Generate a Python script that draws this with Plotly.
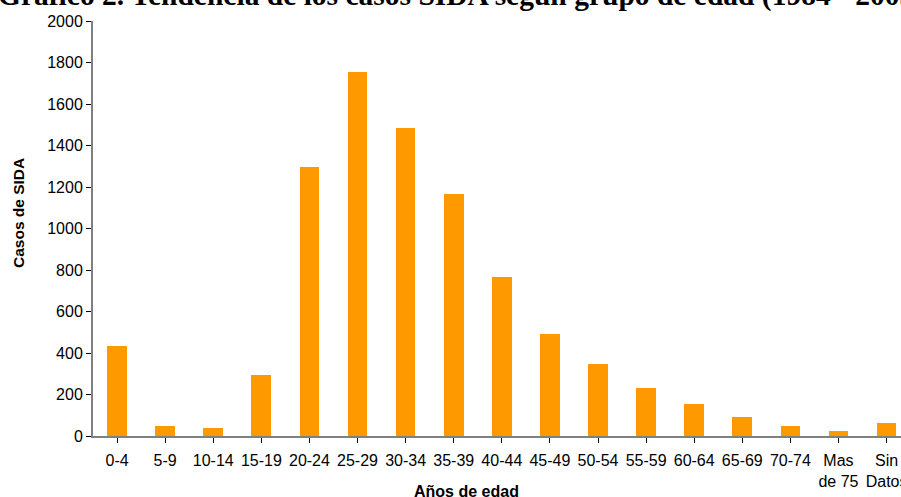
import plotly.graph_objects as go

# Age groups and number of AIDS cases per group
age_groups = ["0-4", "5-9", "10-14", "15-19", "20-24", "25-29", "30-34", "35-39",
              "40-44", "45-49", "50-54", "55-59", "60-64", "65-69", "70-74",
              "Mas<br>de 75", "Sin<br>Datos"]
cases = [432, 47, 37, 292, 1295, 1753, 1483, 1165, 765, 490, 346, 230, 153, 90, 47, 23, 61]

y_ticks = list(range(0, 2001, 200))

title_text = "Gráfico 2. Tendencia de los casos SIDA según grupo de edad (1984 - 2005)"
x_title = "Años de edad"
y_title = "Casos de SIDA"

W, H = 901, 497
L, R, T, B = 93, 0, 21, 61
pw, ph = W - L - R, H - T - B


def px_to_paper_x(px):
    return (px - L) / pw


def px_to_paper_y(py):
    return (H - B - py) / ph


fig = go.Figure(
    go.Bar(
        x=list(range(len(age_groups))),
        y=cases,
        width=0.41,
        marker=dict(color="#FF9900", line=dict(width=0)),
    )
)

fig.update_layout(
    width=W,
    height=H,
    margin=dict(l=L, r=R, t=T, b=B, pad=0, autoexpand=False),
    paper_bgcolor="white",
    plot_bgcolor="white",
    showlegend=False,
    font=dict(family="Liberation Sans, Arial, sans-serif", size=16, color="black"),
    bargap=0,
)

fig.update_xaxes(
    range=[-0.5, 16.3],
    tickmode="array",
    tickvals=list(range(len(age_groups))),
    ticktext=age_groups,
    tickson="boundaries",
    ticks="outside",
    ticklen=5,
    tickwidth=1,
    tickcolor="black",
    ticklabeloverflow="allow",
    ticklabelstandoff=4,
    showline=True,
    linecolor="#808080",
    linewidth=2,
    showgrid=False,
    zeroline=False,
    automargin=False,
    tickfont=dict(size=16),
    fixedrange=True,
)

fig.update_yaxes(
    range=[0, 2000],
    tickmode="array",
    tickvals=y_ticks,
    ticktext=[str(v) for v in y_ticks],
    ticks="outside",
    ticklen=5,
    tickwidth=1,
    tickcolor="black",
    showline=True,
    linecolor="#808080",
    linewidth=2,
    showgrid=False,
    zeroline=False,
    automargin=False,
    tickfont=dict(size=16),
    fixedrange=True,
)

annotations = [
    dict(
        text=f"<b>{title_text}</b>",
        xref="paper", yref="paper",
        x=px_to_paper_x(-4), y=px_to_paper_y(14),
        xanchor="left", yanchor="bottom",
        showarrow=False,
        font=dict(family="Liberation Serif, Times New Roman, serif", size=29.5, color="black"),
    ),
    dict(
        text=f"<b>{x_title}</b>",
        xref="paper", yref="paper",
        x=px_to_paper_x(466), y=px_to_paper_y(481),
        xanchor="center", yanchor="top",
        showarrow=False,
        font=dict(size=16, color="black"),
    ),
    dict(
        text=f"<b>{y_title}</b>",
        xref="paper", yref="paper",
        x=px_to_paper_x(19), y=px_to_paper_y(213),
        xanchor="center", yanchor="middle",
        textangle=-90,
        showarrow=False,
        font=dict(size=15.5, color="black"),
    ),
]
fig.update_layout(annotations=annotations)

fig.write_html("out.html")
